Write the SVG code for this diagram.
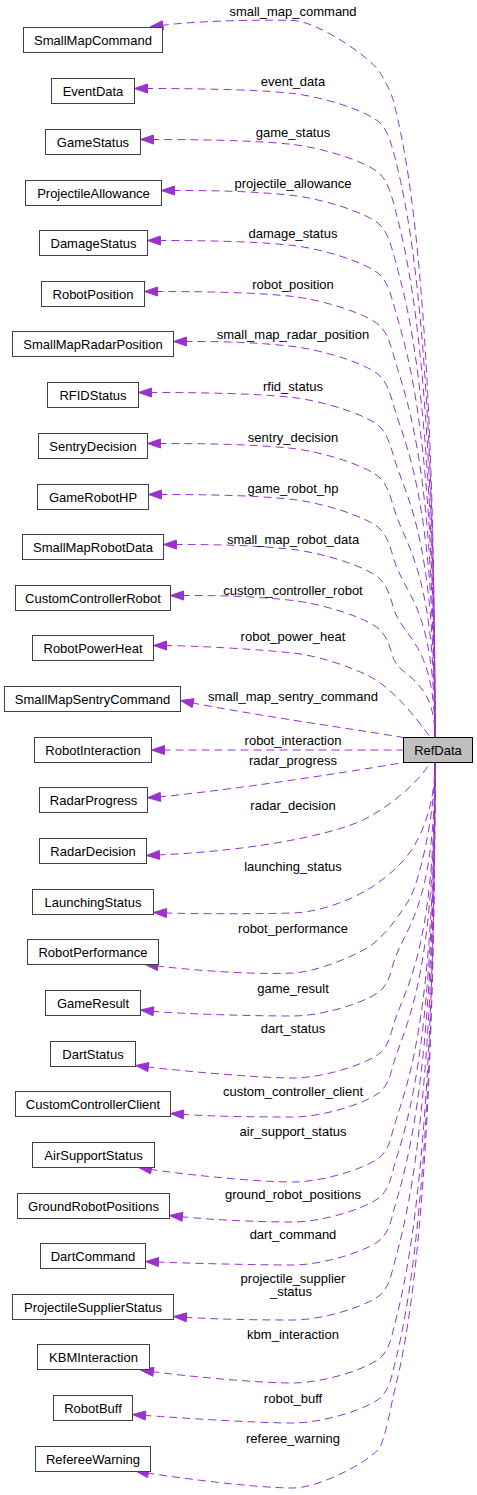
<svg xmlns="http://www.w3.org/2000/svg" width="477" height="1495" viewBox="0 0 477 1495">
<style>
text{font-family:"Liberation Sans",Arial,Helvetica,sans-serif;font-size:13px;fill:#000;text-anchor:middle}
.node rect{fill:#fff;stroke:#404040;stroke-width:1}
#RefData rect{fill:#bfbfbf;stroke:#000}
.edge path{fill:none;stroke:#9a32cd;stroke-width:1;stroke-dasharray:8,5}
.edge polygon{fill:#9a32cd;stroke:#9a32cd;stroke-width:1}
</style>
<rect width="477" height="1495" fill="#fff"/>
<g id="edges">
<g class="edge"><path d="M161,25.5 C195,21 255,19.5 293,20.5 C318,21.5 370.5,57.2 380,72.5 C384.2,79.3 390,89.5 393,99.5 C403,139.5 435,259 435,737"/><polygon points="150,27 162.3,20.8 163.5,29.7"/><text x="293" y="16">small_map_command</text></g>
<g class="edge"><path d="M145.5,88.5 C185.5,88.5 253,89 293,93.5 C323,97 368,111 380,123 C387,130 390,140 393,150 C403,190 435,296.8 435,737"/><polygon points="147.5,84 134.5,88.5 147.5,93"/><text x="293" y="85.5">event_data</text></g>
<g class="edge"><path d="M151.5,139.5 C191.5,139.5 253,140 293,144.5 C323,148 368,162 380,174 C387,181 390,191 393,201 C403,241 435,335 435,737"/><polygon points="153.5,135 140.5,139.5 153.5,144"/><text x="293" y="136.5">game_status</text></g>
<g class="edge"><path d="M172.5,190.5 C212.5,190.5 253,191 293,195.5 C323,199 368,213 380,225 C387,232 390,242 393,252 C403,292 435,373.3 435,737"/><polygon points="174.5,186 161.5,190.5 174.5,195"/><text x="293" y="187.5">projectile_allowance</text></g>
<g class="edge"><path d="M158.5,240.5 C198.5,240.5 253,241 293,245.5 C323,249 368,263 380,275 C387,282 390,292 393,302 C403,342 435,410.8 435,737"/><polygon points="160.5,236 147.5,240.5 160.5,245"/><text x="293" y="237.5">damage_status</text></g>
<g class="edge"><path d="M155.5,291.5 C195.5,291.5 253,292 293,296.5 C323,300 368,314 380,326 C387,333 390,343 393,353 C403,393 435,449 435,737"/><polygon points="157.5,287 144.5,291.5 157.5,296"/><text x="293" y="288.5">robot_position</text></g>
<g class="edge"><path d="M184.5,341.5 C224.5,341.5 253,342 293,346.5 C323,350 368,364 380,376 C387,383 390,393 393,403 C403,443 435,486.5 435,737"/><polygon points="186.5,337 173.5,341.5 186.5,346"/><text x="293" y="339">small_map_radar_position</text></g>
<g class="edge"><path d="M149.5,392.5 C189.5,392.5 253,393 293,397.5 C323,401 368,415 380,427 C387,434 390,444 393,454 C403,494 435,524.8 435,737"/><polygon points="151.5,388 138.5,392.5 151.5,397"/><text x="293" y="391">rfid_status</text></g>
<g class="edge"><path d="M158.5,443.5 C198.5,443.5 253,444 293,448.5 C323,452 368,466 380,478 C387,485 390,495 393,505 C403,545 435,563 435,737"/><polygon points="160.5,439 147.5,443.5 160.5,448"/><text x="293" y="442">sentry_decision</text></g>
<g class="edge"><path d="M159.5,494.5 C199.5,494.5 253,495 293,499.5 C323,503 368,517 380,529 C387,536 390,546 393,556 C403,596 435,601.3 435,737"/><polygon points="161.5,490 148.5,494.5 161.5,499"/><text x="293" y="493">game_robot_hp</text></g>
<g class="edge"><path d="M174.5,544.5 C214.5,544.5 253,545 293,549.5 C323,553 368,567 380,579 C387,586 390,596 393,606 C401.2,638.8 435,638.8 435,737"/><polygon points="176.5,540 163.5,544.5 176.5,549"/><text x="293" y="544">small_map_robot_data</text></g>
<g class="edge"><path d="M181.5,595.5 C221.5,595.5 253,596 293,600.5 C323,604 368,618 380,630 C387,637 390,647 393,657 C398,677 435,677 435,737"/><polygon points="183.5,591 170.5,595.5 183.5,600"/><text x="293" y="594.5">custom_controller_robot</text></g>
<g class="edge"><path d="M164.5,645.5 C200,646 255,649 293,653 C320,656 350,667 367,675 C385,684 405,702 430,737"/><polygon points="166.5,641 153.5,645.5 166.5,650"/><text x="293" y="641">robot_power_heat</text></g>
<g class="edge"><path d="M191.3,702.7 C260,716 340,727 403.5,737.5"/><polygon points="180.5,700.5 194.1,698.7 192.3,707.5"/><text x="293" y="700.5">small_map_sentry_command</text></g>
<g class="edge"><path d="M162.5,750 L403.5,750"/><polygon points="164.5,745.5 151.5,750 164.5,754.5"/><text x="293" y="745">robot_interaction</text></g>
<g class="edge"><path d="M158.5,797 C230,790 330,775 404,762.5"/><polygon points="147.5,797.7 160.2,792.4 160.8,801.4"/><text x="293" y="764.5">radar_progress</text></g>
<g class="edge"><path d="M157.5,855 C260,850.5 339,833 367,818 C395,803 422,778 430,762.5"/><polygon points="146.5,855.5 159.3,850.4 159.7,859.4"/><text x="293" y="810">radar_decision</text></g>
<g class="edge"><path d="M164.5,912.9 C194.5,914 255,914 293,913 C315,912.4 345,903 367,890 C385,879 402,865 413,848 C425,828 435,800 435,762.5"/><polygon points="153.5,912.5 166.7,908.5 166.3,917.5"/><text x="293" y="871">launching_status</text></g>
<g class="edge"><path d="M155.9,965.8 C185,969.5 250,975 293,973 C315,972 350,958 367,948 C384,938 402,912 410,898 C418,884 435,820 435,762.5"/><polygon points="145,964.5 158.4,961.5 157.4,970.5"/><text x="293" y="933">robot_performance</text></g>
<g class="edge"><path d="M151.4,1011.1 C181.2,1014.1 255,1016 293,1016 C325,1016 374,1000 383,988 C387.7,981.5 389.5,978 392,968 C402,928 435,916.5 435,762.5"/><polygon points="140.5,1010 153.9,1006.8 153,1015.8"/><text x="293" y="993">game_result</text></g>
<g class="edge"><path d="M146.4,1066.8 C176.2,1070.3 255,1078 293,1078 C325,1078 374,1062 383,1050 C387.7,1043.5 389.5,1040 392,1030 C402,990 435,963 435,762.5"/><polygon points="135.5,1065.5 148.9,1062.5 147.9,1071.5"/><text x="293" y="1033">dart_status</text></g>
<g class="edge"><path d="M181.5,1114.3 C211.4,1116.5 255,1117 293,1117 C325,1117 374,1101 383,1089 C387.7,1082.5 389.5,1079 392,1069 C402,1029 435,992.3 435,762.5"/><polygon points="170.5,1113.5 183.8,1109.9 183.2,1118.9"/><text x="293" y="1095.5">custom_controller_client</text></g>
<g class="edge"><path d="M149.4,1169.2 C179,1173.9 255,1182 293,1182 C325,1182 374,1166 383,1154 C387.7,1147.5 389.5,1144 392,1134 C402,1094 435,1041 435,762.5"/><polygon points="138.5,1167.5 152,1165.1 150.6,1173.9"/><text x="293" y="1136">air_support_status</text></g>
<g class="edge"><path d="M180.4,1216.6 C210.3,1219.7 255,1222 293,1222 C325,1222 374,1206 383,1194 C387.7,1187.5 389.5,1184 392,1174 C402,1134 435,1071 435,762.5"/><polygon points="169.5,1215.5 182.9,1212.3 182,1221.3"/><text x="293" y="1199">ground_robot_positions</text></g>
<g class="edge"><path d="M156.5,1262 C186.5,1263.2 255,1265 293,1265 C325,1265 374,1249 383,1237 C387.7,1230.5 389.5,1227 392,1217 C402,1177 435,1103.3 435,762.5"/><polygon points="145.5,1261.5 158.7,1257.6 158.3,1266.6"/><text x="293" y="1238.5">dart_command</text></g>
<g class="edge"><path d="M184.5,1317.2 C214.4,1319.3 255,1320 293,1320 C325,1320 374,1304 383,1292 C387.7,1285.5 389.5,1282 392,1272 C402,1232 435,1144.5 435,762.5"/><polygon points="173.5,1316.5 186.8,1312.8 186.2,1321.8"/><text x="293" y="1283">projectile_supplier</text><text x="291" y="1296">_status</text></g>
<g class="edge"><path d="M151.4,1371.5 C181.1,1375.6 255,1383 293,1383 C325,1383 374,1367 383,1355 C387.7,1348.5 389.5,1345 392,1335 C402,1295 435,1191.8 435,762.5"/><polygon points="140.5,1370 154,1367.3 152.8,1376.3"/><text x="293" y="1338.5">kbm_interaction</text></g>
<g class="edge"><path d="M143.5,1415.3 C173.4,1417.5 255,1423 293,1423 C325,1423 374,1407 383,1395 C387.7,1388.5 389.5,1385 392,1375 C402,1335 435,1221.8 435,762.5"/><polygon points="132.5,1414.5 145.8,1411 145.2,1420"/><text x="293" y="1403">robot_buff</text></g>
<g class="edge"><path d="M146.4,1472.8 C176,1477.6 255,1488 293,1488 C320,1488 372.6,1460 380,1447 C385,1438 390.6,1409 393,1397 C403,1357 435,1238 435,762.5"/><polygon points="135.5,1471 149,1468.7 147.6,1477.5"/><text x="293" y="1443">referee_warning</text></g>
</g>
<g id="nodes">
<g class="node" id="SmallMapCommand"><rect x="23.5" y="27.5" width="139" height="25"/><text x="93" y="44.5">SmallMapCommand</text></g>
<g class="node" id="EventData"><rect x="51.5" y="78.5" width="83" height="25"/><text x="93" y="95.5">EventData</text></g>
<g class="node" id="GameStatus"><rect x="45.5" y="129.5" width="95" height="25"/><text x="93" y="146.5">GameStatus</text></g>
<g class="node" id="ProjectileAllowance"><rect x="25.5" y="180.5" width="136" height="25"/><text x="93.5" y="197.5">ProjectileAllowance</text></g>
<g class="node" id="DamageStatus"><rect x="39.5" y="230.5" width="108" height="25"/><text x="93.5" y="247.5">DamageStatus</text></g>
<g class="node" id="RobotPosition"><rect x="41.5" y="281.5" width="103" height="25"/><text x="93" y="298.5">RobotPosition</text></g>
<g class="node" id="SmallMapRadarPosition"><rect x="12.5" y="331.5" width="161" height="25"/><text x="93" y="348.5">SmallMapRadarPosition</text></g>
<g class="node" id="RFIDStatus"><rect x="47.5" y="382.5" width="91" height="25"/><text x="93" y="399.5">RFIDStatus</text></g>
<g class="node" id="SentryDecision"><rect x="38.5" y="433.5" width="109" height="25"/><text x="93" y="450.5">SentryDecision</text></g>
<g class="node" id="GameRobotHP"><rect x="37.5" y="484.5" width="111" height="25"/><text x="93" y="501.5">GameRobotHP</text></g>
<g class="node" id="SmallMapRobotData"><rect x="22.5" y="534.5" width="141" height="25"/><text x="93" y="551.5">SmallMapRobotData</text></g>
<g class="node" id="CustomControllerRobot"><rect x="15.5" y="585.5" width="155" height="25"/><text x="93" y="602.5">CustomControllerRobot</text></g>
<g class="node" id="RobotPowerHeat"><rect x="32.5" y="635.5" width="121" height="25"/><text x="93" y="652.5">RobotPowerHeat</text></g>
<g class="node" id="SmallMapSentryCommand"><rect x="4.5" y="686.5" width="176" height="25"/><text x="92.5" y="703.5">SmallMapSentryCommand</text></g>
<g class="node" id="RobotInteraction"><rect x="34.5" y="737.5" width="117" height="25"/><text x="93" y="754.5">RobotInteraction</text></g>
<g class="node" id="RadarProgress"><rect x="39.5" y="787.5" width="108" height="25"/><text x="93.5" y="804.5">RadarProgress</text></g>
<g class="node" id="RadarDecision"><rect x="39.5" y="838.5" width="107" height="25"/><text x="93" y="855.5">RadarDecision</text></g>
<g class="node" id="LaunchingStatus"><rect x="32.5" y="889.5" width="121" height="25"/><text x="93" y="906.5">LaunchingStatus</text></g>
<g class="node" id="RobotPerformance"><rect x="27.5" y="939.5" width="131" height="25"/><text x="93" y="956.5">RobotPerformance</text></g>
<g class="node" id="GameResult"><rect x="45.5" y="990.5" width="95" height="25"/><text x="93" y="1007.5">GameResult</text></g>
<g class="node" id="DartStatus"><rect x="50.5" y="1041.5" width="85" height="25"/><text x="93" y="1058.5">DartStatus</text></g>
<g class="node" id="CustomControllerClient"><rect x="15.5" y="1091.5" width="155" height="25"/><text x="93" y="1108.5">CustomControllerClient</text></g>
<g class="node" id="AirSupportStatus"><rect x="32.5" y="1142.5" width="122" height="25"/><text x="93.5" y="1159.5">AirSupportStatus</text></g>
<g class="node" id="GroundRobotPositions"><rect x="17.5" y="1193.5" width="152" height="25"/><text x="93.5" y="1210.5">GroundRobotPositions</text></g>
<g class="node" id="DartCommand"><rect x="40.5" y="1243.5" width="105" height="25"/><text x="93" y="1260.5">DartCommand</text></g>
<g class="node" id="ProjectileSupplierStatus"><rect x="12.5" y="1294.5" width="161" height="25"/><text x="93" y="1311.5">ProjectileSupplierStatus</text></g>
<g class="node" id="KBMInteraction"><rect x="37.5" y="1344.5" width="112" height="25"/><text x="93.5" y="1361.5">KBMInteraction</text></g>
<g class="node" id="RobotBuff"><rect x="53.5" y="1395.5" width="79" height="25"/><text x="93" y="1412.5">RobotBuff</text></g>
<g class="node" id="RefereeWarning"><rect x="35.5" y="1446.5" width="115" height="25"/><text x="93" y="1463.5">RefereeWarning</text></g>
<g class="node" id="RefData"><rect x="403.5" y="737.5" width="69" height="25"/><text x="438" y="754.5">RefData</text></g>
</g>
</svg>
